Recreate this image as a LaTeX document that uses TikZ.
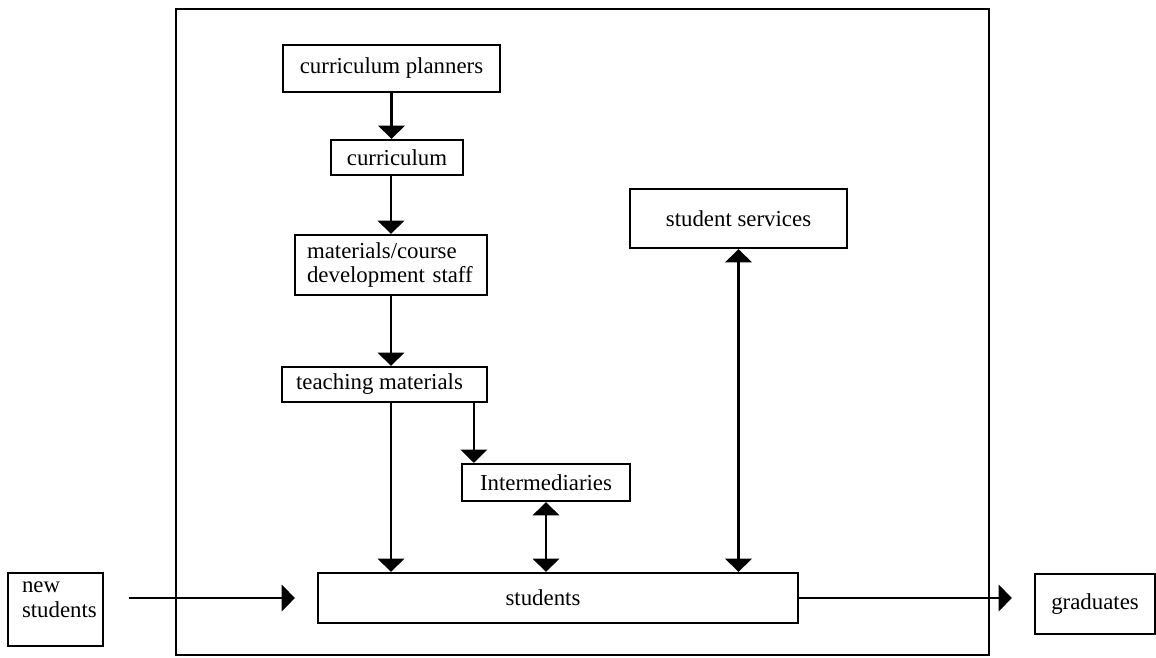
\documentclass[tikz,border=0pt]{standalone}
\usepackage{fontspec}
\setmainfont{Liberation Serif}
\usetikzlibrary{arrows.meta, positioning, calc}

\tikzset{
  unitbox/.style={draw, line width=1.3pt, inner sep=0pt, align=center, font=\fontsize{13}{14}\selectfont},
  flow/.style={line width=1.3pt, -{Triangle[width=15pt, length=7.5pt]}},
  twoway/.style={line width=1.3pt, {Triangle[width=15pt, length=7.5pt]}-{Triangle[width=15pt, length=7.5pt]}},
}

\begin{document}
\begin{tikzpicture}[x=0.02cm, y=-0.02cm]
  \useasboundingbox (0,0) rectangle (1156,657);
  % Institution frame
  \draw[line width=0.9pt] (176,9) rectangle (989,655);

  % Course chain
  \node[unitbox, minimum width=4.34cm, minimum height=0.94cm] (planners) at (391.5,68.5) {curriculum planners};
  \node[unitbox, minimum width=2.64cm, minimum height=0.70cm] (curric) at (397,157.5) {curriculum};
  \node[unitbox, text width=3.36cm, inner xsep=0.24cm, align=left, minimum height=1.20cm] (devstaff) at (391,265) {materials/course\\development staff};
  \node[unitbox, minimum width=4.10cm, minimum height=0.70cm] (teaching) at (384.5,384.5) {\hspace*{-0.2cm}teaching materials};
  \node[unitbox, minimum width=3.36cm, minimum height=0.74cm] (interm) at (546,482.5) {Intermediaries};

  % Services and students
  \node[unitbox, minimum width=4.34cm, minimum height=1.18cm] (services) at (738.5,218.5) {student services};
  \node[unitbox, minimum width=9.60cm, minimum height=1.00cm] (students) at (558,598) {\hspace*{-0.6cm}students};

  % Outside the frame
  \node[unitbox, text width=1.34cm, inner xsep=0.28cm, align=left, minimum height=1.46cm] (newstud) at (55.5,609.5) {new\\students\\[-2.5pt]\mbox{}};
  \node[unitbox, minimum width=2.40cm, minimum height=1.20cm] (grads) at (1095,604) {graduates};

  % Connectors
  \draw[flow] (planners.south) -- (planners.south |- curric.north);
  \draw[flow] (devstaff.north |- curric.south) -- (devstaff.north);
  \draw[flow] (devstaff.south) -- (devstaff.south |- teaching.north);
  \draw[flow] (devstaff.south |- teaching.south) -- (devstaff.south |- students.north);
  \coordinate (tointerm) at ([xshift=0.26cm]interm.north west);
  \draw[flow] (tointerm |- teaching.south) -- (tointerm);
  \draw[twoway] (interm.south) -- (interm.south |- students.north);
  \draw[twoway] (services.south) -- (services.south |- students.north);
  \draw[flow] ([xshift=0.5cm]newstud.east |- students.west) -- ([xshift=-0.44cm]students.west);
  \draw[flow] (students.east) -- ([xshift=-0.44cm]grads.west |- students.east);
\end{tikzpicture}
\end{document}
